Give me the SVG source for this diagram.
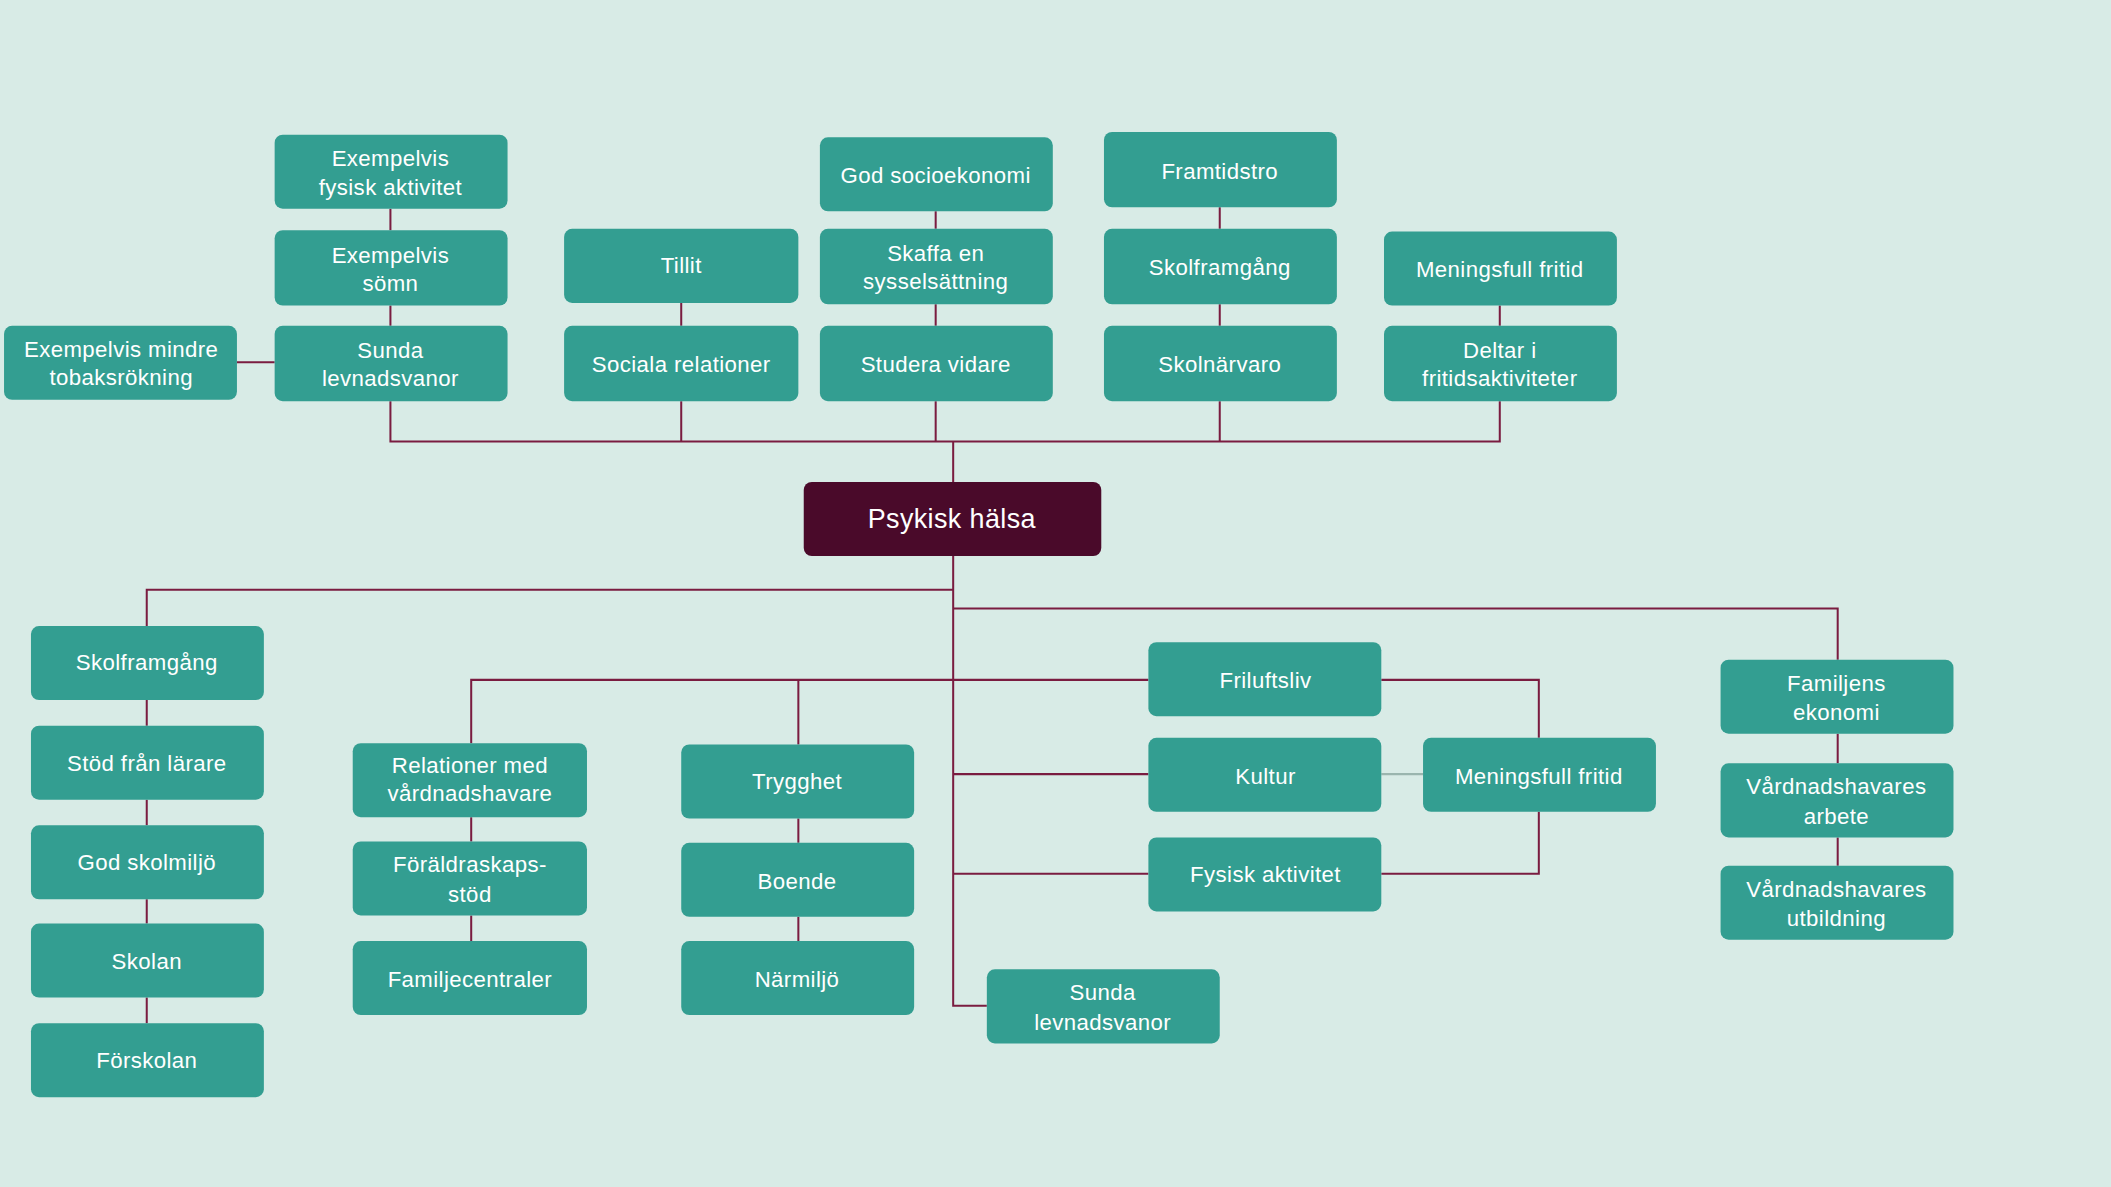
<svg xmlns="http://www.w3.org/2000/svg" width="2111" height="1187" viewBox="0 0 2111 1187">
<style>
.n rect{fill:#339e91}
.n text{fill:#fff;font-family:"Liberation Sans",Arial,sans-serif;font-size:16.5px;text-anchor:middle;letter-spacing:0.3px}
.c path{fill:none;stroke:#7a1c40;stroke-width:1.5}
</style>
<rect width="2111" height="1187" fill="#d8ebe6"/>
<g transform="scale(1.34630)">
<g class="c">
<path d="M290 155V171M290 227V242M176 269H204M506 225V242M695 157V170M695 226V242M906 154V170M906 226V242M1114 227V242"/>
<path d="M290 298V328H1114V298M506 298V328M695 298V328M906 298V328M708 328V358"/>
<path d="M708 413V747H733M708 438H109V465M109 520V539M109 594V613M109 668V686M109 741V760"/>
<path d="M708 452H1365V490M1365 545V567M1365 622V643"/>
<path d="M853 505H350V552M350 607V625M350 680V699M593 505V553M593 608V626M593 681V699"/>
<path d="M708 575H853M708 649H853M1026 505H1143V548M1026 649H1143V603"/>
<path d="M1026 575H1057" style="stroke:#9ab5ae"/>
</g>
<g id="psykisk" class="n"><rect x="597" y="358" width="221" height="55" rx="6" style="fill:#4a0a2a"/><text x="707" y="392" style="font-size:20px">Psykisk hälsa</text></g>
<g id="t1" class="n"><rect x="204" y="100" width="173" height="55" rx="6"/><text x="290" y="123">Exempelvis</text><text x="290" y="145">fysisk aktivitet</text></g>
<g id="t2" class="n"><rect x="204" y="171" width="173" height="56" rx="6"/><text x="290" y="195">Exempelvis</text><text x="290" y="216">sömn</text></g>
<g id="t3" class="n"><rect x="204" y="242" width="173" height="56" rx="6"/><text x="290" y="266">Sunda</text><text x="290" y="287">levnadsvanor</text></g>
<g id="t4" class="n"><rect x="3" y="242" width="173" height="55" rx="6"/><text x="90" y="265">Exempelvis mindre</text><text x="90" y="286">tobaksrökning</text></g>
<g id="t5" class="n"><rect x="419" y="170" width="174" height="55" rx="6"/><text x="506" y="203">Tillit</text></g>
<g id="t6" class="n"><rect x="419" y="242" width="174" height="56" rx="6"/><text x="506" y="276">Sociala relationer</text></g>
<g id="t7" class="n"><rect x="609" y="102" width="173" height="55" rx="6"/><text x="695" y="136">God socioekonomi</text></g>
<g id="t8" class="n"><rect x="609" y="170" width="173" height="56" rx="6"/><text x="695" y="194">Skaffa en</text><text x="695" y="215">sysselsättning</text></g>
<g id="t9" class="n"><rect x="609" y="242" width="173" height="56" rx="6"/><text x="695" y="276">Studera vidare</text></g>
<g id="t10" class="n"><rect x="820" y="98" width="173" height="56" rx="6"/><text x="906" y="133">Framtidstro</text></g>
<g id="t11" class="n"><rect x="820" y="170" width="173" height="56" rx="6"/><text x="906" y="204">Skolframgång</text></g>
<g id="t12" class="n"><rect x="820" y="242" width="173" height="56" rx="6"/><text x="906" y="276">Skolnärvaro</text></g>
<g id="t13" class="n"><rect x="1028" y="172" width="173" height="55" rx="6"/><text x="1114" y="206">Meningsfull fritid</text></g>
<g id="t14" class="n"><rect x="1028" y="242" width="173" height="56" rx="6"/><text x="1114" y="266">Deltar i</text><text x="1114" y="287">fritidsaktiviteter</text></g>
<g id="b1" class="n"><rect x="23" y="465" width="173" height="55" rx="6"/><text x="109" y="498">Skolframgång</text></g>
<g id="b2" class="n"><rect x="23" y="539" width="173" height="55" rx="6"/><text x="109" y="573">Stöd från lärare</text></g>
<g id="b3" class="n"><rect x="23" y="613" width="173" height="55" rx="6"/><text x="109" y="646">God skolmiljö</text></g>
<g id="b4" class="n"><rect x="23" y="686" width="173" height="55" rx="6"/><text x="109" y="720">Skolan</text></g>
<g id="b5" class="n"><rect x="23" y="760" width="173" height="55" rx="6"/><text x="109" y="793">Förskolan</text></g>
<g id="b6" class="n"><rect x="262" y="552" width="174" height="55" rx="6"/><text x="349" y="574">Relationer med</text><text x="349" y="595">vårdnadshavare</text></g>
<g id="b7" class="n"><rect x="262" y="625" width="174" height="55" rx="6"/><text x="349" y="648">Föräldraskaps-</text><text x="349" y="670">stöd</text></g>
<g id="b8" class="n"><rect x="262" y="699" width="174" height="55" rx="6"/><text x="349" y="733">Familjecentraler</text></g>
<g id="b9" class="n"><rect x="506" y="553" width="173" height="55" rx="6"/><text x="592" y="586">Trygghet</text></g>
<g id="b10" class="n"><rect x="506" y="626" width="173" height="55" rx="6"/><text x="592" y="660">Boende</text></g>
<g id="b11" class="n"><rect x="506" y="699" width="173" height="55" rx="6"/><text x="592" y="733">Närmiljö</text></g>
<g id="b12" class="n"><rect x="733" y="720" width="173" height="55" rx="6"/><text x="819" y="743">Sunda</text><text x="819" y="765">levnadsvanor</text></g>
<g id="b13" class="n"><rect x="853" y="477" width="173" height="55" rx="6"/><text x="940" y="511">Friluftsliv</text></g>
<g id="b14" class="n"><rect x="853" y="548" width="173" height="55" rx="6"/><text x="940" y="582">Kultur</text></g>
<g id="b15" class="n"><rect x="853" y="622" width="173" height="55" rx="6"/><text x="940" y="655">Fysisk aktivitet</text></g>
<g id="b16" class="n"><rect x="1057" y="548" width="173" height="55" rx="6"/><text x="1143" y="582">Meningsfull fritid</text></g>
<g id="b17" class="n"><rect x="1278" y="490" width="173" height="55" rx="6"/><text x="1364" y="513">Familjens</text><text x="1364" y="535">ekonomi</text></g>
<g id="b18" class="n"><rect x="1278" y="567" width="173" height="55" rx="6"/><text x="1364" y="590">Vårdnadshavares</text><text x="1364" y="612">arbete</text></g>
<g id="b19" class="n"><rect x="1278" y="643" width="173" height="55" rx="6"/><text x="1364" y="666">Vårdnadshavares</text><text x="1364" y="688">utbildning</text></g>
</g>
</svg>
